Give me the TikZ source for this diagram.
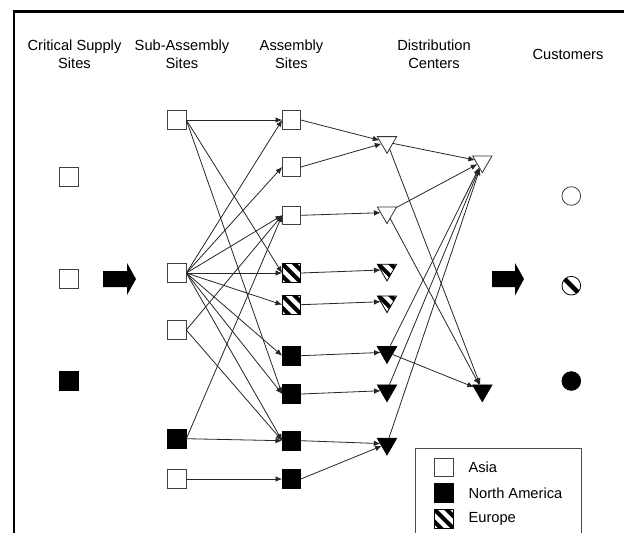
\documentclass[tikz,border=0pt]{standalone}
\usepackage{fontspec}
\setmainfont{Liberation Sans}
\usetikzlibrary{arrows.meta,shapes.geometric}
\newcommand\hatchlines[2]{\foreach \o in {#1}{\draw[line width=#2] ([shift={({\o*0.7071pt-12pt},{\o*0.7071pt+12pt})}]path picture bounding box.center) -- ([shift={({\o*0.7071pt+12pt},{\o*0.7071pt-12pt})}]path picture bounding box.center);}}
\tikzset{
  box/.style={rectangle, draw=black!75, line width=0.6pt, minimum size=14pt, inner sep=0pt, outer sep=0pt, fill=white},
  boxb/.style={box, draw=black, fill=black},
  boxh/.style={box, draw=black, path picture={\hatchlines{-6.5,0,6.5}{3pt}}},
  tri/.style={regular polygon, regular polygon sides=3, shape border rotate=180, minimum size=16.7pt, inner sep=0pt, outer sep=0pt, draw=black!80, line width=0.6pt, fill=white},
  trib/.style={tri, draw=black, fill=black},
  trih/.style={tri, draw=black, path picture={\hatchlines{-6.5,0,6.5}{3pt}}},
  cir/.style={circle, minimum size=14pt, inner sep=0pt, outer sep=0pt, draw=black!75, line width=0.6pt, fill=white},
  cirb/.style={cir, draw=black, fill=black},
  cirh/.style={cir, draw=black, path picture={\hatchlines{0}{3.5pt}}},
  hdr/.style={align=center, font=\fontsize{11}{13.9}\selectfont, inner sep=0pt},
  lgd/.style={anchor=west, font=\fontsize{11}{13.9}\selectfont, inner sep=0pt},
  conn/.style={-{Latex[length=5pt,width=4.2pt]}, line width=0.6pt, draw=black!85},
}
\begin{document}
\begin{tikzpicture}[x=0.75pt, y=-0.75pt]
\useasboundingbox (0,0) rectangle (624,533);
% frame
\draw[line width=1.9pt] (14,533) -- (14,11.3) -- (624,11.3);
% headers
\node[hdr] (h1) at (74.5,54.25) {Critical Supply\\Sites};
\node[hdr] (h2) at (182,54.25) {Sub-Assembly\\Sites};
\node[hdr] (h3) at (291.5,54.25) {Assembly\\Sites};
\node[hdr] (h4) at (434,54.25) {Distribution\\Centers};
\node[hdr] (h5) at (568,54.25) {Customers};
% critical supply
\node[box] (C1) at (69,177) {};
\node[box] (C2) at (69,279) {};
\node[boxb] (C3) at (69,381) {};
% sub-assembly
\node[box] (S1) at (177,120) {};
\node[box] (S2) at (177,273) {};
\node[box] (S3) at (177,330) {};
\node[boxb] (S4) at (177,438.7) {};
\node[box] (S5) at (177,479) {};
% assembly
\node[box] (A1) at (291.5,120) {};
\node[box] (A2) at (291.5,167) {};
\node[box] (A3) at (291.5,215.3) {};
\node[boxh] (A4) at (291.5,273) {};
\node[boxh] (A5) at (291.5,304.7) {};
\node[boxb] (A6) at (291.5,355.7) {};
\node[boxb] (A7) at (291.5,394) {};
\node[boxb] (A8) at (291.5,440.7) {};
\node[boxb] (A9) at (291.5,479) {};
% distribution
\node[tri] (D1) at (387,142.2) {};
\node[tri] (D2) at (387,212.5) {};
\node[trih] (D3) at (387,269.8) {};
\node[trih] (D4) at (387,301.5) {};
\node[trib] (D5) at (387,352.2) {};
\node[trib] (D6) at (387,390.5) {};
\node[trib] (D7) at (387,443.8) {};
\node[tri] (R1) at (482.3,161.5) {};
\node[trib] (R2) at (482.3,390.5) {};
% customers
\node[cir] (K1) at (571.3,196) {};
\node[cirh] (K2) at (571.3,285.7) {};
\node[cirb] (K3) at (571.3,381) {};
% big arrows
\fill (103,271) -- (127,271) -- (127,263) -- (136,279) -- (127,295) -- (127,287) -- (103,287) -- cycle;
\fill (492,271) -- (515,271) -- (515,263) -- (524,279) -- (515,295.5) -- (515,287) -- (492,287) -- cycle;
% sub-assembly -> assembly
\foreach \t in {A1,A4,A7} \draw[conn] (S1.east) -- (\t.west);
\foreach \t in {A1,A2,A3,A4,A5,A6,A7,A8} \draw[conn] (S2.east) -- (\t.west);
\foreach \t in {A3,A8} \draw[conn] (S3.east) -- (\t.west);
\foreach \t in {A3,A8} \draw[conn] (S4.east) -- (\t.west);
\draw[conn] (S5.east) -- (A9.west);
% assembly -> distribution
\draw[conn] (A1.east) -- (D1);
\draw[conn] (A2.east) -- (D1);
\draw[conn] (A3.east) -- (D2);
\draw[conn] (A4.east) -- (D3);
\draw[conn] (A5.east) -- (D4);
\draw[conn] (A6.east) -- (D5);
\draw[conn] (A7.east) -- (D6);
\draw[conn] (A8.east) -- (D7);
\draw[conn] (A9.east) -- (D7);
% distribution -> regional
\draw[conn] (D1) -- (R1);
\draw[conn] (D2) -- (R1);
\draw[conn] (D1) -- (R2);
\draw[conn] (D2) -- (R2);
\draw[conn] (D5) -- (R2);
\draw[conn] (D5) -- (R1);
\draw[conn] (D6) -- (R1);
\draw[conn] (D7) -- (R1);
% legend
\draw[black!70, line width=0.75pt] (415.7,533) -- (415.7,448.3) -- (581,448.3) -- (581,533);
\node[box] (L1) at (444,467.3) {};
\node[boxb] (L2) at (444,493) {};
\node[boxh] (L3) at (444,519) {};
\node[lgd] (T1) at (468.3,467.3) {Asia};
\node[lgd] (T2) at (468.3,493) {North America};
\node[lgd] (T3) at (468.3,519) {Europe};
\end{tikzpicture}
\end{document}
